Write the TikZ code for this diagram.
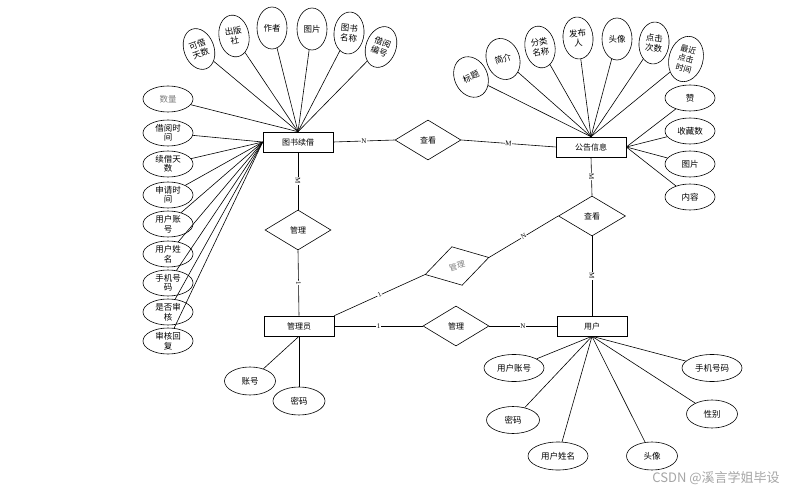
\documentclass[tikz,border=0pt]{standalone}
\usepackage{fontspec}
\setmainfont{Noto Sans CJK SC}
\newfontfamily\cardfont{Liberation Serif}
\usetikzlibrary{shapes.geometric}

\begin{document}
\begin{tikzpicture}[x=1pt,y=-1pt,line width=0.6pt,
  entity/.style={draw,rectangle,minimum width=70pt,minimum height=20pt,inner sep=0pt,font=\fontsize{8}{8}\selectfont},
  rel/.style={draw,diamond,minimum width=66pt,minimum height=40pt,inner sep=0pt,font=\fontsize{8}{8}\selectfont},
  attr/.style={draw,ellipse,minimum width=50pt,minimum height=26pt,inner sep=0pt,align=center,font=\fontsize{8.5}{9.5}\selectfont},
  tattr/.style={draw,ellipse,minimum width=30pt,minimum height=42pt,inner sep=0pt,align=center,font=\fontsize{8.5}{10}\selectfont},
  card/.style={fill=white,inner sep=0.6pt,font=\cardfont\fontsize{7}{7}\selectfont}]
\fill[white] (0,0) rectangle (802,494);
\useasboundingbox (0,0) rectangle (802,494);

\node[entity] (book) at (298,142) {图书续借};
\node[entity] (notice) at (591,147) {公告信息};
\node[entity] (admin) at (299,326) {管理员};
\node[entity] (user) at (592,326) {用户};

\node[rel] (chkbook) at (428,140) {查看};
\node[rel] (mgrbook) at (298,230) {管理};
\node[rel,rotate=15,text=gray] (mgrnotice) at (457,266) {管理};
\node[rel,minimum width=67pt] (chknotice) at (592,216) {查看};
\node[rel] (mgruser) at (456,326) {管理};

\node[tattr,rotate=20] (kejie) at (199,49) {可借\\天数};
\node[tattr,rotate=10] (chuban) at (234,36) {出版\\社};
\node[tattr] (zuozhe) at (272,28) {作者};
\node[tattr] (tupian) at (312,29) {图片};
\node[tattr,rotate=-5] (shuming) at (349,33) {图书\\名称};
\node[tattr,rotate=-20] (bianhao) at (381,47) {借阅\\编号};

\node[attr,text=gray] (shuliang) at (168,99) {数量};
\node[attr] (jieyue) at (168,133) {借阅时\\间};
\node[attr] (xujie) at (168,164) {续借天\\数};
\node[attr] (shenqing) at (168,195) {申请时\\间};
\node[attr] (zhanghao) at (168,224) {用户账\\号};
\node[attr] (xingming) at (168,254) {用户姓\\名};
\node[attr] (shouji) at (168,283) {手机号\\码};
\node[attr] (shifou) at (168,312) {是否审\\核};
\node[attr] (huifu) at (168,341) {审核回\\复};

\node[tattr,minimum width=33pt,rotate=25] (biaoti) at (471,77) {标题};
\node[tattr,minimum width=33pt,rotate=20] (jianjie) at (503,59) {简介};
\node[tattr,rotate=10] (fenlei) at (540,47) {分类\\名称};
\node[tattr,rotate=5] (fabu) at (578,38) {发布\\人};
\node[tattr] (touxiang) at (617,39) {头像};
\node[tattr,rotate=-5] (dianji) at (654,43) {点击\\次数};
\node[tattr,minimum width=34pt,minimum height=46pt,rotate=-15,font=\fontsize{8}{9.5}\selectfont] (zuijin) at (686,59) {最近\\点击\\时间};

\node[attr] (zan) at (690,98) {赞};
\node[attr] (shoucang) at (690,131) {收藏数};
\node[attr] (ntupian) at (690,164) {图片};
\node[attr] (neirong) at (690,197) {内容};

\node[attr,minimum width=51pt,minimum height=28pt] (azhanghao) at (250,381) {账号};
\node[attr,minimum width=52pt,minimum height=28pt] (amima) at (299,401) {密码};

\node[attr,minimum width=60pt,minimum height=27pt] (uzhanghao) at (514,368) {用户账号};
\node[attr,minimum width=53pt,minimum height=27pt] (umima) at (513,420) {密码};
\node[attr,minimum width=60pt,minimum height=28pt] (uxingming) at (558,456) {用户姓名};
\node[attr,minimum width=51pt,minimum height=28pt] (utouxiang) at (652,456) {头像};
\node[attr,minimum width=51pt,minimum height=28pt] (uxingbie) at (712,414) {性别};
\node[attr,minimum width=60pt,minimum height=27pt] (ushouji) at (712,368) {手机号码};

\foreach \a in {kejie,chuban,zuozhe,tupian,shuming,bianhao,shuliang}
  \draw (\a) -- (book.north);
\foreach \a in {jieyue,xujie,shenqing,zhanghao,xingming,shouji,shifou,huifu}
  \draw (\a) -- (book.west);
\foreach \a in {biaoti,jianjie,fenlei,fabu,touxiang,dianji,zuijin}
  \draw (\a) -- (notice.north);
\foreach \a in {zan,shoucang,ntupian,neirong}
  \draw (\a) -- (notice.east);
\foreach \a in {azhanghao,amima}
  \draw (\a) -- (admin.south);
\foreach \a in {uzhanghao,umima,uxingming,utouxiang,uxingbie,ushouji}
  \draw (\a) -- (user.south);

\draw (book.east) -- node[card]{N} (chkbook.west);
\draw (chkbook.east) -- node[card,sloped]{M} (notice.west);
\draw (book.south) -- node[card,sloped]{M} (mgrbook.north);
\draw (mgrbook.south) -- node[card,sloped]{1} (admin.north);
\draw (admin.north east) -- node[card,sloped]{1} (mgrnotice.west);
\draw (mgrnotice.east) -- node[card,sloped]{N} (chknotice.west);
\draw (notice.south) -- node[card,sloped]{M} (chknotice.north);
\draw (chknotice.south) -- node[card,sloped]{M} (user.north);
\draw (admin.east) -- node[card]{1} (mgruser.west);
\draw (mgruser.east) -- node[card]{N} (user.west);

\node[text=gray!70,font=\fontsize{13}{13}\selectfont] (mark) at (716,478) {CSDN @溪言学姐毕设};
\end{tikzpicture}
\end{document}
